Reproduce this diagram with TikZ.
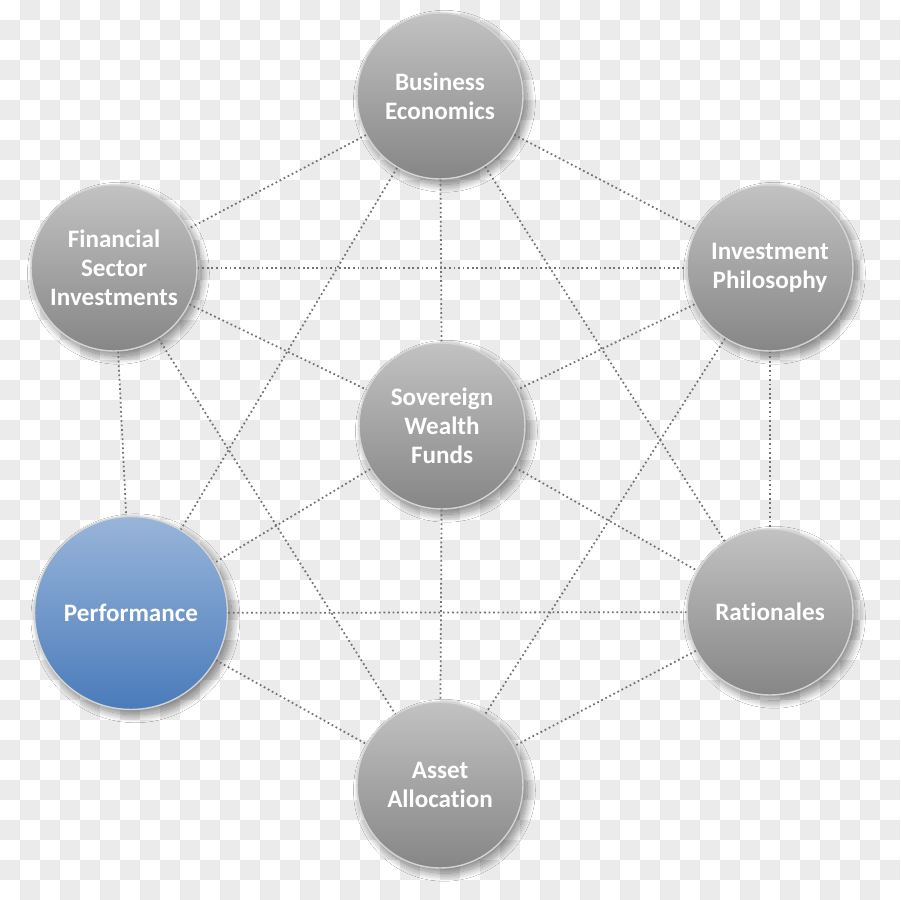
\documentclass[tikz,border=0pt]{standalone}
\usepackage{fontspec}
\setmainfont{Carlito}[Ligatures=NoCommon]
\usetikzlibrary{shadows.blur}

\definecolor{checkgray}{HTML}{EBEBEB}
\definecolor{topgray}{HTML}{C2C2C2}
\definecolor{botgray}{HTML}{868686}
\definecolor{topblue}{HTML}{98B5DA}
\definecolor{botblue}{HTML}{4A7BBA}
\definecolor{ringgray}{HTML}{D4D4D4}
\definecolor{linkgray}{HTML}{737373}

\tikzset{
	bubble/.style={circle, minimum size=3.32cm, inner sep=0pt, align=center,
		text=white, font=\fontsize{14.3}{16.4}\selectfont\bfseries,
		top color=topgray, bottom color=botgray, draw=ringgray, line width=0.8pt,
		blur shadow={shadow xshift=2.5pt, shadow yshift=-3pt, shadow blur steps=24,
			shadow opacity=50, shadow blur radius=4.5pt}},
	bluebubble/.style={bubble, minimum size=3.86cm, top color=topblue, bottom color=botblue},
	link/.style={draw=linkgray, line width=1pt, dash pattern=on 1pt off 1.6pt},
}

\begin{document}
\begin{tikzpicture}[x=0.02cm, y=-0.02cm]
	\useasboundingbox (0,0) rectangle (900,900);
	
	% checkered backdrop
	\fill[white] (0,0) rectangle (900,900);
	\foreach \row in {0,...,44}
	\foreach \col in {0,...,44}{
		\pgfmathtruncatemacro{\odd}{mod(\row+\col,2)}
		\ifnum\odd=1 \fill[checkgray] (20*\col,20*\row) rectangle ++(20,20); \fi
	}
	
	% the seven topics
	\node[bubble] (econ) at (440,96) {Business\\Economics};
	\node[bubble] (sector) at (114,268) {Financial\\Sector\\Investments};
	\node[bubble] (philo) at (770,268) {Investment\\Philosophy};
	\node[bubble] (swf) at (442,426) {Sovereign\\Wealth\\Funds};
	\node[bluebubble] (perf) at (131,613) {Performance};
	\node[bubble] (ratio) at (770,612) {Rationales};
	\node[bubble] (alloc) at (440,785) {Asset\\Allocation};
	
	% dotted links
	\draw[link] (econ) -- (sector);
	\draw[link] (econ) -- (philo);
	\draw[link] (econ) -- (swf);
	\draw[link] (econ) -- (perf);
	\draw[link] (econ) -- (ratio);
	
	\draw[link] (sector) -- (philo);
	\draw[link] (sector) -- (swf);
	\draw[link] (sector) -- (perf);
	\draw[link] (sector) -- (alloc);
	
	\draw[link] (philo) -- (swf);
	\draw[link] (philo) -- (ratio);
	\draw[link] (philo) -- (alloc);
	
	\draw[link] (swf) -- (perf);
	\draw[link] (swf) -- (ratio);
	\draw[link] (swf) -- (alloc);
	
	\draw[link] (perf) -- (ratio);
	\draw[link] (perf) -- (alloc);
	\draw[link] (ratio) -- (alloc);
\end{tikzpicture}
\end{document}
